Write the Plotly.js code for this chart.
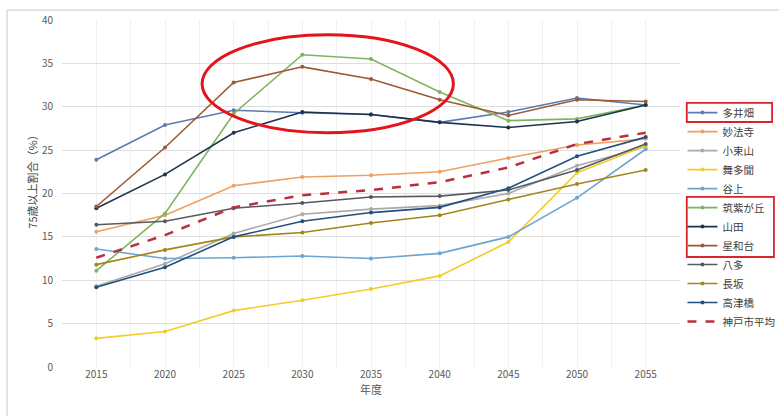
<!DOCTYPE html>
<html>
<head>
<meta charset="utf-8">
<script src="https://cdn.plot.ly/plotly-3.0.1.min.js"></script>
<style>html,body{margin:0;padding:0;background:#fff;}#chart{width:779px;height:416px;}</style>
</head>
<body>
<div id="chart"></div>
<script>
const years = [2015, 2020, 2025, 2030, 2035, 2040, 2045, 2050, 2055];
const names = ["多井畑", "妙法寺", "小束山", "舞多聞", "谷上", "筑紫が丘", "山田", "星和台", "八多", "長坂", "高津橋", "神戸市平均"];
const tainohata = [23.9, 27.9, 29.6, 29.3, 29.1, 28.2, 29.4, 31.0, 30.2];
const myohoji   = [15.6, 17.5, 20.9, 21.9, 22.1, 22.5, 24.1, 25.6, 26.3];
const kotsukayama = [9.3, 11.9, 15.4, 17.6, 18.2, 18.6, 20.0, 23.2, 25.4];
const maitamon  = [3.3, 4.1, 6.5, 7.7, 9.0, 10.5, 14.4, 22.4, 25.5];
const tanigami  = [13.6, 12.5, 12.6, 12.8, 12.5, 13.1, 15.0, 19.5, 25.1];
const tsukushigaoka = [11.1, 17.7, 29.2, 36.0, 35.5, 31.7, 28.4, 28.6, 30.2];
const yamada    = [18.3, 22.2, 27.0, 29.4, 29.1, 28.2, 27.6, 28.3, 30.2];
const seiwadai  = [18.5, 25.3, 32.8, 34.6, 33.2, 30.8, 29.0, 30.8, 30.6];
const oda       = [16.4, 16.8, 18.3, 18.9, 19.6, 19.7, 20.4, 22.7, 25.7];
const nagasaka  = [11.8, 13.5, 15.0, 15.5, 16.6, 17.5, 19.3, 21.1, 22.7];
const takatsuhashi = [9.2, 11.5, 15.0, 16.8, 17.8, 18.4, 20.6, 24.3, 26.5];
const kobeAvg   = [12.6, 15.2, 18.4, 19.8, 20.4, 21.3, 23.0, 25.7, 27.0];
const yTicks = [0, 5, 10, 15, 20, 25, 30, 35, 40];

const seriesValues = [tainohata, myohoji, kotsukayama, maitamon, tanigami, tsukushigaoka, yamada, seiwadai, oda, nagasaka, takatsuhashi, kobeAvg];
const colors = ["#5b7bb2", "#eea061", "#a9a9a9", "#f2cc2a", "#6ea5d0", "#80b45c", "#1e3350", "#9a5a36", "#56595e", "#a2861c", "#22507c", "#bb2f3d"];

const traces = seriesValues.map((vals, i) => {
  const isAvg = i === seriesValues.length - 1;
  return {
    x: years, y: vals, name: names[i], type: "scatter",
    mode: isAvg ? "lines" : "lines+markers",
    line: {color: colors[i], width: isAvg ? 2.5 : 1.6, dash: isAvg ? "dash" : "solid"},
    marker: {color: colors[i], size: 4}
  };
});

const font = {family: "Noto Sans CJK JP, Noto Sans, sans-serif", color: "#595959", size: 10};

const layout = {
  width: 779, height: 416,
  margin: {l: 62, r: 99, t: 20, b: 49, autoexpand: false},
  paper_bgcolor: "#ffffff", plot_bgcolor: "#ffffff",
  font: font,
  showlegend: true,
  legend: {x: 1.004, y: 0.775, xanchor: "left", yanchor: "top", font: {family: font.family, size: 10.5, color: "#404040"}, tracegroupgap: 0, bgcolor: "rgba(0,0,0,0)"},
  xaxis: {
    range: [2012.5, 2057.5], tickmode: "array", tickvals: years, ticktext: years.map(String),
    showgrid: false, zeroline: false, showline: false, ticks: "",
    tickfont: {size: 10, color: "#595959"},
    minor: {dtick: 2.5, tick0: 2012.5, showgrid: true, gridcolor: "#f0f0f0", gridwidth: 1},
    title: {text: "年度", font: {size: 11, color: "#595959"}, standoff: 6}
  },
  yaxis: {
    range: [0, 40], tickmode: "array", tickvals: yTicks, ticktext: yTicks.map(String),
    showgrid: true, gridcolor: "#dedede", gridwidth: 1, zeroline: false, showline: false, ticks: "",
    ticklabelstandoff: 8,
    tickfont: {size: 10, color: "#595959"}
  },
  annotations: [{
    text: "75歳以上割合（%）", xref: "paper", yref: "paper", x: -0.0485, y: 0.54,
    xanchor: "center", yanchor: "middle",
    showarrow: false, textangle: -90, font: {size: 11, color: "#404040"}
  }],
  shapes: [
    {type: "line", xref: "paper", yref: "paper", x0: -0.089, x1: 1.2, y0: 1.029, y1: 1.029, line: {color: "#d9d9d9", width: 1.5}},
    {type: "line", xref: "paper", yref: "paper", x0: -0.089, x1: -0.089, y0: -0.15, y1: 1.029, line: {color: "#d9d9d9", width: 1.5}},
    {type: "circle", xref: "x", yref: "y", x0: 2022.7, x1: 2041.0, y0: 27.0, y1: 38.3, line: {color: "#e5141b", width: 3}},
    {type: "rect", xref: "paper", yref: "paper", x0: 1.011, x1: 1.149, y0: 0.706, y1: 0.761, line: {color: "#d9232a", width: 1.8}},
    {type: "rect", xref: "paper", yref: "paper", x0: 1.011, x1: 1.152, y0: 0.317, y1: 0.490, line: {color: "#d9232a", width: 1.8}}
  ]
};

Plotly.newPlot("chart", traces, layout, {displayModeBar: false, staticPlot: true});
</script>
</body>
</html>
